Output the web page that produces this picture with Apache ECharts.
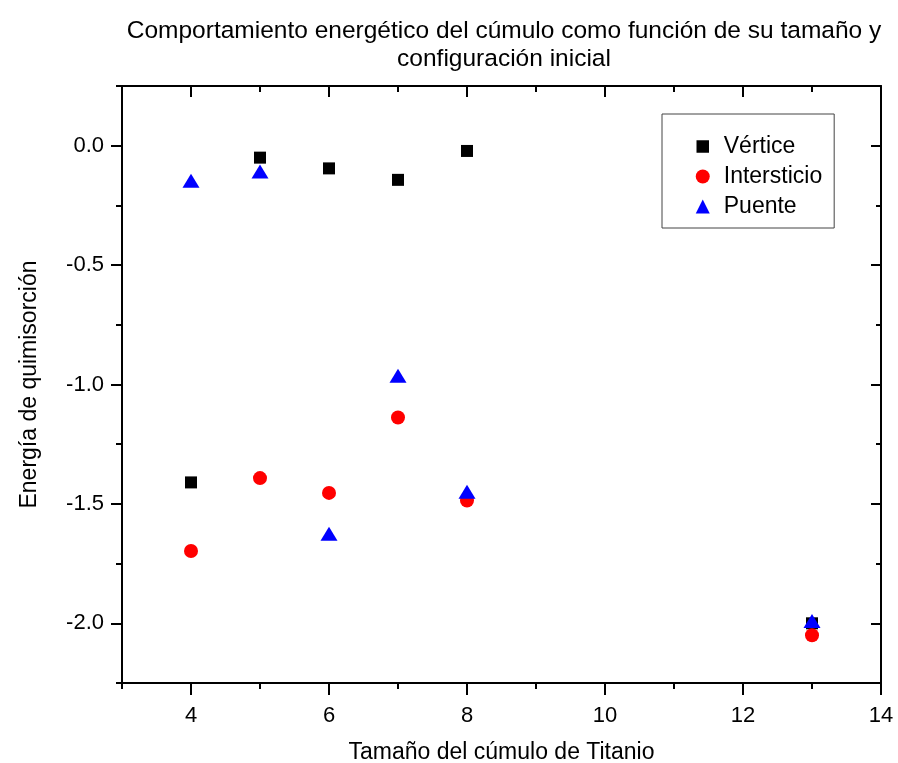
<!DOCTYPE html>
<html>
<head>
<meta charset="utf-8">
<script src="https://cdn.jsdelivr.net/npm/echarts@6/dist/echarts.min.js"></script>
<style>
  html, body { margin: 0; padding: 0; background: #fff; }
  #main { width: 898px; height: 763px; }
</style>
</head>
<body>
<div id="main"></div>
<script>
// tamaños del cúmulo
var sizes = [4, 5, 6, 7, 8, 13];
// energías
var vertice = [-1.41, -0.05, -0.095, -0.143, -0.022, -2.0];
var intersticio = [-1.697, -1.392, -1.454, -1.138, -1.486, -2.05];
var puente = [-0.147, -0.108, -1.625, -0.963, -1.449, -1.99];

var xMajor = [4, 6, 8, 10, 12, 14];
var xMinor = [3, 5, 7, 9, 11, 13];
var yMajor = [-2.0, -1.5, -1.0, -0.5, 0.0];
var yMinor = [-2.25, -1.75, -1.25, -0.75, -0.25, 0.25];

var FONT = 'Liberation Sans';

function pairs(ys) {
	var out = [];
	for (var i = 0; i < sizes.length; i++) {
		out.push([sizes[i], ys[i]]);
	}
	return out;
}

function xAx(pos, ticks, len, inside, line, labels) {
	return {
		type: 'value', position: pos, min: 3, max: 14, interval: 1,
		axisLine: { show: line, onZero: false, lineStyle: { color: '#000', width: 2 } },
		axisTick: { show: true, inside: inside, length: len, customValues: ticks, lineStyle: { color: '#000', width: 2 } },
		axisLabel: labels ? { show: true, customValues: ticks, color: '#000', fontSize: 22, fontFamily: FONT, margin: 22 } : { show: false },
		splitLine: { show: false }
	};
}

function yAx(pos, ticks, len, inside, line, labels) {
	return {
		type: 'value', position: pos, min: -2.25, max: 0.25, interval: 0.25,
		axisLine: { show: line, onZero: false, lineStyle: { color: '#000', width: 2 } },
		axisTick: { show: true, inside: inside, length: len, customValues: ticks, lineStyle: { color: '#000', width: 2 } },
		axisLabel: labels ? {
			show: true, customValues: ticks, color: '#000', fontSize: 22, fontFamily: FONT, margin: 18,
			formatter: function (v) { return v.toFixed(1); }
		} : { show: false },
		splitLine: { show: false }
	};
}

var xMain = xAx('bottom', xMajor, 12, false, true, true);
xMain.name = 'Tamaño del cúmulo de Titanio';
xMain.nameLocation = 'middle';
xMain.nameGap = 58;
xMain.nameTextStyle = { color: '#000', fontSize: 23, fontFamily: FONT };

var yMain = yAx('left', yMajor, 11, false, true, true);
yMain.name = 'Energía de quimisorción';
yMain.nameLocation = 'middle';
yMain.nameGap = 81;
yMain.nameTextStyle = { color: '#000', fontSize: 23, fontFamily: FONT };

var myChart = echarts.init(document.getElementById('main'));
var option = {
	backgroundColor: '#fff',
	animation: false,
	title: {
		text: 'Comportamiento energético del cúmulo como función de su tamaño y\nconfiguración inicial',
		left: 499,
		top: 12,
		textAlign: 'center',
		textStyle: { color: '#000', fontSize: 24.5, fontWeight: 'normal', fontFamily: FONT, lineHeight: 28 }
	},
	grid: { left: 122, right: 17, top: 86, bottom: 80, containLabel: false, outerBoundsMode: 'none' },
	legend: {
		orient: 'vertical',
		left: 662,
		top: 114,
		padding: [21, 12, 10, 33],
		itemGap: 7,
		itemWidth: 14,
		itemHeight: 14,
		borderColor: '#444',
		borderWidth: 1,
		textStyle: { color: '#000', fontSize: 23, fontFamily: FONT, padding: [0, 0, 0, 9] },
		data: [
			{ name: 'Vértice', icon: 'rect', itemStyle: { borderWidth: 1.5, borderColor: '#fff' } },
			{ name: 'Intersticio', icon: 'circle' },
			{ name: 'Puente', icon: 'triangle' }
		]
	},
	xAxis: [
		xMain,
		xAx('bottom', xMinor, 6, false, false, false),
		xAx('top', xMajor, 11, true, true, false),
		xAx('top', xMinor, 6, true, false, false)
	],
	yAxis: [
		yMain,
		yAx('left', yMinor, 6, false, false, false),
		yAx('right', yMajor, 10, true, true, false),
		yAx('right', yMinor, 5, true, false, false)
	],
	series: [{
		name: 'Vértice',
		type: 'scatter',
		symbol: 'rect',
		symbolSize: 12,
		itemStyle: { color: '#000', opacity: 1 },
		data: pairs(vertice)
	}, {
		name: 'Intersticio',
		type: 'scatter',
		symbol: 'circle',
		symbolSize: 14,
		itemStyle: { color: '#ff0000', opacity: 1 },
		data: pairs(intersticio)
	}, {
		name: 'Puente',
		type: 'scatter',
		symbol: 'triangle',
		symbolSize: [17, 14],
		itemStyle: { color: '#0000ff', opacity: 1 },
		data: pairs(puente)
	}]
};
myChart.setOption(option);
</script>
</body>
</html>
